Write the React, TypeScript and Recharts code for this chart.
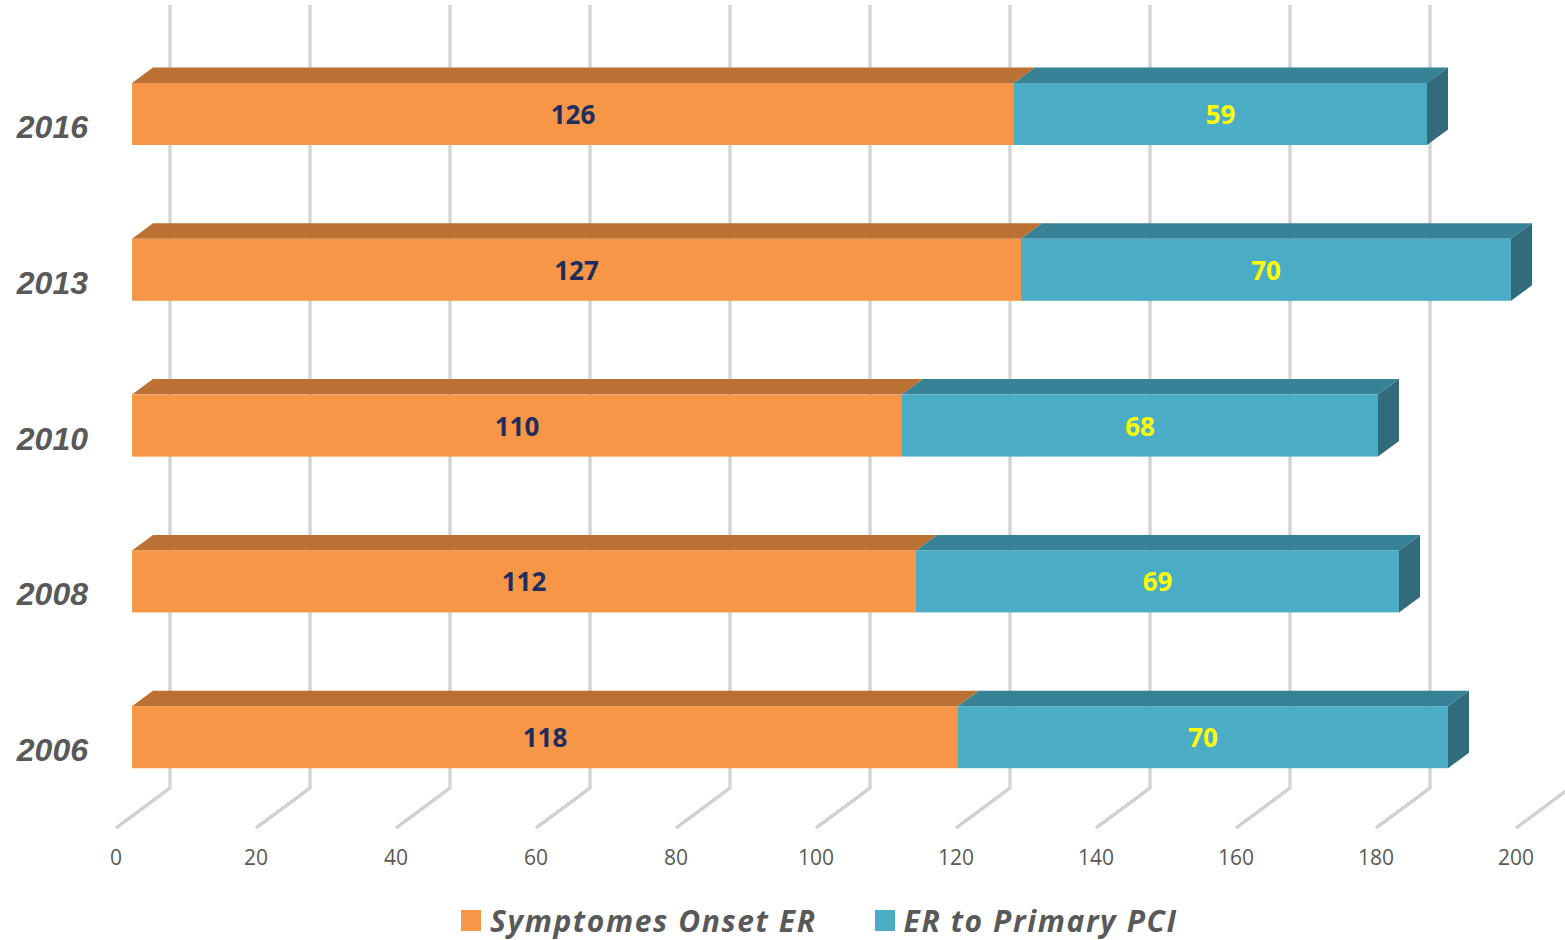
import React from 'react';
import { BarChart, Bar, XAxis, YAxis, CartesianGrid, Legend, LabelList } from 'recharts';

const years = ['2016', '2013', '2010', '2008', '2006'];
const onsetToEr = [126, 127, 110, 112, 118];
const erToPci = [59, 70, 68, 69, 70];
const xTicks = [0, 20, 40, 60, 80, 100, 120, 140, 160, 180, 200];
const seriesOrder = ['onset', 'pci'];

const data = years.map((year, i) => ({ year, onset: onsetToEr[i], pci: erToPci[i] }));

// 3d depth offsets
const DX = 21;
const DY = 15.5;

function Box3D(props: any) {
  const { x, y, width, height, fill, top, side, withSide } = props;
  if (width == null || height == null) return null;
  const topPts = `${x},${y} ${x + DX},${y - DY} ${x + width + DX},${y - DY} ${x + width},${y}`;
  const sidePts = `${x + width},${y} ${x + width + DX},${y - DY} ${x + width + DX},${y + height - DY} ${x + width},${y + height}`;
  return (
    <g>
      <polygon points={topPts} fill={top} />
      {withSide && <polygon points={sidePts} fill={side} />}
      <rect x={x} y={y} width={width} height={height} fill={fill} />
    </g>
  );
}

function GridLine(props: any) {
  const { x1, y1, y2 } = props;
  const d = `M${x1 + 38},${y1 - 31} L${x1 + 38},${y2 - 27} L${x1 - 16},${y2 + 13}`;
  return (
    <g key={props.key}>
      <path d={d} fill="none" stroke="#c2c2c2" strokeWidth={3} />
      <path d={d} fill="none" stroke="#e8e8e8" strokeWidth={1} />
    </g>
  );
}

function XTick(props: any) {
  const { x, y, payload } = props;
  return (
    <text x={x - 16} y={y + 42} textAnchor="middle" dominantBaseline="central"
      fontFamily="'Open Sans'" fontSize={21} fill="#595959">
      {payload.value}
    </text>
  );
}

function YTick(props: any) {
  const { x, y, payload } = props;
  return (
    <text x={x - 44} y={y + 13} textAnchor="end" dominantBaseline="central"
      fontFamily="'Liberation Sans'" fontStyle="italic" fontWeight="bold" fontSize={32} fill="#595959">
      {payload.value}
    </text>
  );
}

const makeLabel = (color: string) => (props: any) => {
  const { x, y, width, height, value } = props;
  return (
    <text x={x + width / 2} y={y + height / 2} textAnchor="middle" dominantBaseline="central"
      fontFamily="'Open Sans'" fontWeight="bold" fontSize={26} fill={color}>
      {value}
    </text>
  );
};

function LegendContent(props: any) {
  const items = [...(props.payload || [])].sort(
    (a: any, b: any) => seriesOrder.indexOf(a.dataKey) - seriesOrder.indexOf(b.dataKey)
  );
  return (
    <div style={{ display: 'flex', alignItems: 'center', height: 40, paddingLeft: 461 }}>
      {items.map((p: any, i: number) => (
        <div key={i} style={{ display: 'flex', alignItems: 'center', marginRight: 58 }}>
          <div style={{ width: 20, height: 21, background: p.color, marginRight: 9 }} />
          <span style={{ fontFamily: "'Open Sans'", fontStyle: 'italic', fontWeight: 'bold', fontSize: 30,
            letterSpacing: 1.6, color: '#595959' }}>
            {p.value}
          </span>
        </div>
      ))}
    </div>
  );
}

export default function App() {
  return (
    <div style={{ position: 'absolute', left: 0, top: 0, background: '#fff' }}>
      <BarChart width={1565} height={940} data={data} layout="vertical"
        margin={{ top: 36, right: 33, left: 0, bottom: 0 }}>
        <CartesianGrid horizontal={false} vertical={(p: any) => <GridLine {...p} />} />
        <XAxis type="number" domain={[0, 200]} ticks={xTicks} axisLine={false} tickLine={false}
          tickSize={0} tickMargin={0} height={85} tick={<XTick />} interval={0} />
        <YAxis type="category" dataKey="year" width={132} axisLine={false} tickLine={false}
          tickSize={0} tickMargin={0} tick={<YTick />} />
        <Legend verticalAlign="bottom" content={<LegendContent />}
          wrapperStyle={{ left: 0, bottom: 0, width: 1565 }} />
        <Bar dataKey="onset" name="Symptomes Onset ER" stackId="a" fill="#f79646" barSize={62}
          isAnimationActive={false}
          shape={(p: any) => <Box3D {...p} top="#bb7034" withSide={false} />}>
          <LabelList dataKey="onset" content={makeLabel('#1f2d5e')} />
        </Bar>
        <Bar dataKey="pci" name="ER to Primary PCI" stackId="a" fill="#4bacc6" barSize={62}
          isAnimationActive={false}
          shape={(p: any) => <Box3D {...p} top="#378294" side="#316b7c" withSide={true} />}>
          <LabelList dataKey="pci" content={makeLabel('#ffff00')} />
        </Bar>
      </BarChart>
    </div>
  );
}
